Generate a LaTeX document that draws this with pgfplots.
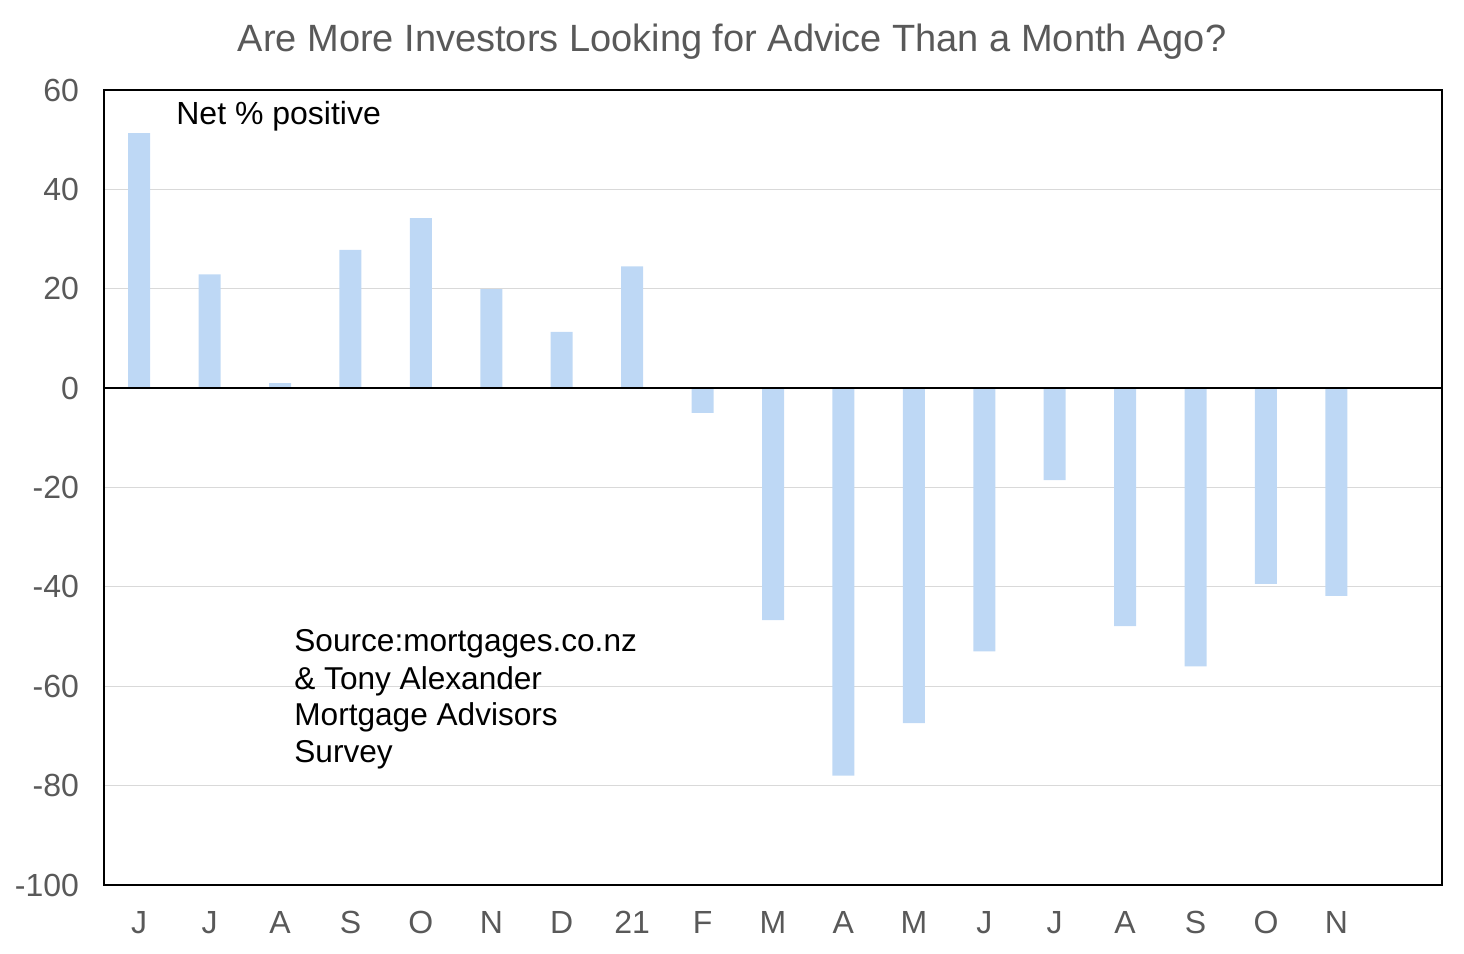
\documentclass[border=0pt]{standalone}
\usepackage{pgfplots}
\pgfplotsset{compat=1.18}
\usepackage{fontspec}
\setmainfont{Liberation Sans}
\definecolor{barblue}{RGB}{190,216,245}
\definecolor{txtgray}{RGB}{89,89,89}
\definecolor{gridgray}{RGB}{217,217,217}
\begin{document}
\begin{tikzpicture}
\useasboundingbox (-52pt,-34.5pt) rectangle (680pt,442.5pt);
\begin{axis}[
  at={(0,0)}, anchor=south west,
  scale only axis, width=669pt, height=397.5pt,
  xmin=-0.5, xmax=18.5, ymin=-100, ymax=60,
  ybar, bar width=11pt,
  xtick={0,...,17},
  xticklabels={J,J,A,S,O,N,D,21,F,M,A,M,J,J,A,S,O,N},
  ytick={-100,-80,...,60},
  ymajorgrids, grid style={gridgray, line width=0.6pt},
  major tick length=0pt,
  axis line style={black, line width=0.8pt},
  /pgf/number format/assume math mode=true,
  ticklabel style={font=\fontsize{16pt}{19pt}\selectfont, text=txtgray},
  yticklabel style={xshift=-9pt},
  xticklabel style={yshift=-9.5pt},
  clip=false,
]
\addplot[fill=barblue, draw=none] table[x=x, y=y] {
x y
0 51.3
1 22.9
2 1
3 27.8
4 34.2
5 19.9
6 11.3
7 24.5
8 -5
9 -46.7
10 -78
11 -67.4
12 -53
13 -18.5
14 -47.9
15 -56
16 -39.4
17 -41.8
};
\draw[black, line width=0.7pt] (rel axis cs:0,0.625) -- (rel axis cs:1,0.625);
\node[anchor=base, text=txtgray, font=\fontsize{19pt}{23pt}\selectfont] at (rel axis cs:0.4694,1.0483) {Are More Investors Looking for Advice Than a Month Ago?};
\node[anchor=base west, inner sep=0pt, font=\fontsize{16pt}{19pt}\selectfont] at (rel axis cs:0.0538,0.957) {Net \% positive};
\node[anchor=base west, inner sep=0pt, font=\fontsize{15.8pt}{19pt}\selectfont] at (rel axis cs:0.1420,0.2931) {Source:mortgages.co.nz};
\node[anchor=base west, inner sep=0pt, font=\fontsize{15.8pt}{19pt}\selectfont] at (rel axis cs:0.1420,0.2465) {\& Tony Alexander};
\node[anchor=base west, inner sep=0pt, font=\fontsize{15.8pt}{19pt}\selectfont] at (rel axis cs:0.1420,0.2000) {Mortgage Advisors};
\node[anchor=base west, inner sep=0pt, font=\fontsize{15.8pt}{19pt}\selectfont] at (rel axis cs:0.1420,0.1535) {Survey};
\end{axis}
\end{tikzpicture}
\end{document}
